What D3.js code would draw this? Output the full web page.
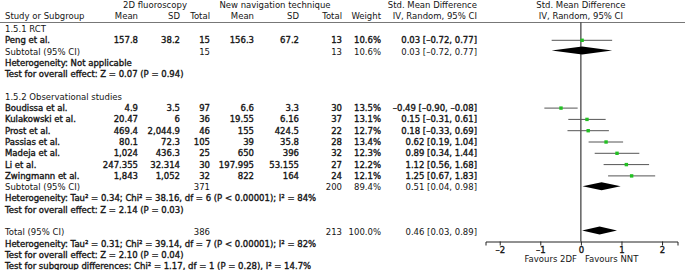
<!DOCTYPE html>
<html>
<head>
<meta charset="utf-8">
<script src="https://cdn.jsdelivr.net/npm/d3@7"></script>
<style>
  body { margin: 0; background: #fff; }
  text { font-family: "DejaVu Sans", sans-serif; font-size: 8.5px; fill: #151515; }
  .b { stroke: #151515; stroke-width: 0.35px; }
</style>
</head>
<body>
<svg id="chart" width="685" height="270"></svg>
<script>
// les etudes
var studyNames = ["Peng et al.", "Boudissa et al.", "Kulakowski et al.", "Prost et al.", "Passias et al.", "Madeja et al.", "Li et al.", "Zwingmann et al."];
var studyGroup = [0, 1, 1, 1, 1, 1, 1, 1];
var mean2D = ["157.8", "4.9", "20.47", "469.4", "80.1", "1,024", "247.355", "1,843"];
var sd2D = ["38.2", "3.5", "6", "2,044.9", "72.3", "436.3", "32.314", "1,052"];
var n2D = [15, 97, 36, 46, 105, 25, 30, 32];
var meanNNT = ["156.3", "6.6", "19.55", "155", "39", "650", "197.995", "822"];
var sdNNT = ["67.2", "3.3", "6.16", "424.5", "35.8", "396", "53.155", "164"];
var nNNT = [13, 30, 37, 22, 28, 32, 27, 24];
var weights = [10.6, 13.5, 13.1, 12.7, 13.4, 12.3, 12.2, 12.1];
var smd = [0.03, -0.49, 0.15, 0.18, 0.62, 0.89, 1.12, 1.25];
var ciLow = [-0.72, -0.90, -0.31, -0.33, 0.19, 0.34, 0.56, 0.67];
var ciHigh = [0.77, -0.08, 0.61, 0.69, 1.04, 1.44, 1.68, 1.83];

// sous-groupes
var subgroupNames = ["1.5.1 RCT", "1.5.2 Observational studies"];
var subN2D = [15, 371];
var subNNT = [13, 200];
var subWeight = [10.6, 89.4];
var subSmd = [0.03, 0.51];
var subLow = [-0.72, 0.04];
var subHigh = [0.77, 0.98];
var subHet = ["Heterogeneity: Not applicable",
              "Heterogeneity: Tau² = 0.34; Chi² = 38.16, df = 6 (P < 0.00001); I² = 84%"];
var subTest = ["Test for overall effect: Z = 0.07 (P = 0.94)",
               "Test for overall effect: Z = 2.14 (P = 0.03)"];

// total
var totalN2D = 386, totalNNT = 213, totalWeight = 100.0;
var totalSmd = 0.46, totalLow = 0.03, totalHigh = 0.89;
var footLines = ["Heterogeneity: Tau² = 0.31; Chi² = 39.14, df = 7 (P < 0.00001); I² = 82%",
                 "Test for overall effect: Z = 2.10 (P = 0.04)",
                 "Test for subgroup differences: Chi² = 1.17, df = 1 (P = 0.28), I² = 14.7%"];

var axisTicks = [-2, -1, 0, 1, 2];
var favourLeft = "Favours 2DF", favourRight = "Favours NNT";

var svg = d3.select("#chart");

function fmtCI(m, lo, hi) {
    var f = function(v) { return (v < 0 ? "–" : "") + Math.abs(v).toFixed(2); };
    return f(m) + " [" + f(lo) + ", " + f(hi) + "]";
}

// colonnes (bord droit)
var col = {study: 5, mean1: 138, sd1: 180, n1: 210, mean2: 254, sd2: 299, n2: 342, w: 381, ci: 477};

// lignes du tableau
var rows = [];
var r = 2;
subgroupNames.forEach(function(g, gi) {
    rows.push({i: r++, type: "group", label: g});
    studyNames.forEach(function(s, si) {
        if (studyGroup[si] != gi) return;
        rows.push({i: r++, type: "study", k: si});
    });
    rows.push({i: r++, type: "sub", k: gi});
    rows.push({i: r++, type: "note", label: subHet[gi]});
    rows.push({i: r++, type: "note", label: subTest[gi]});
    r++;
});
rows.push({i: r++, type: "total"});
footLines.forEach(function(t) { rows.push({i: r++, type: "note", label: t}); });

var y = d3.scaleLinear().domain([2, 23]).range([29, 266.3]);
var x = d3.scaleLinear().domain([-2.35, 2.38]).range([485.5, 677.5]);

function txt(xx, yy, s, anchor, bold) {
    svg.append("text")
       .attr("x", xx).attr("y", yy).attr("dy", "0.35em")
       .attr("text-anchor", anchor || "end")
       .attr("class", bold ? "b" : null)
       .text(s);
}

// en-tetes
txt(155, 5.5, "2D fluoroscopy", "middle");
txt(275, 5.5, "New navigation technique", "middle");
txt(col.ci, 5.5, "Std. Mean Difference");
txt(x(0), 5.5, "Std. Mean Difference", "middle");
txt(col.study, 16.5, "Study or Subgroup", "start");
txt(col.mean1, 16.5, "Mean");
txt(col.sd1, 16.5, "SD");
txt(col.n1, 16.5, "Total");
txt(col.mean2, 16.5, "Mean");
txt(col.sd2, 16.5, "SD");
txt(col.n2, 16.5, "Total");
txt(col.w, 16.5, "Weight");
txt(col.ci, 16.5, "IV, Random, 95% CI");
txt(x(0), 16.5, "IV, Random, 95% CI", "middle");

svg.append("line").attr("x1", 0).attr("x2", 685).attr("y1", 22.5).attr("y2", 22.5)
   .attr("stroke", "#777").attr("stroke-width", 1);

// ligne verticale a zero
svg.append("line").attr("x1", x(0)).attr("x2", x(0)).attr("y1", 22.5).attr("y2", 241.5)
   .attr("stroke", "#111").attr("stroke-width", 1);

function diamond(yy, m, lo, hi) {
    var h = 4;
    svg.append("path")
       .attr("d", "M" + x(lo) + "," + yy + "L" + x(m) + "," + (yy - h) + "L" + x(hi) + "," + yy + "L" + x(m) + "," + (yy + h) + "Z")
       .attr("fill", "#000");
}

rows.forEach(function(d) {
    var yy = y(d.i);
    if (d.type == "group") {
        txt(col.study, yy, d.label, "start");
    } else if (d.type == "note") {
        txt(col.study, yy, d.label, "start", true);
    } else if (d.type == "study") {
        var k = d.k;
        txt(col.study, yy, studyNames[k], "start", true);
        txt(col.mean1, yy, mean2D[k], "end", true);
        txt(col.sd1, yy, sd2D[k], "end", true);
        txt(col.n1, yy, n2D[k], "end", true);
        txt(col.mean2, yy, meanNNT[k], "end", true);
        txt(col.sd2, yy, sdNNT[k], "end", true);
        txt(col.n2, yy, nNNT[k], "end", true);
        txt(col.w, yy, weights[k].toFixed(1) + "%", "end", true);
        txt(col.ci, yy, fmtCI(smd[k], ciLow[k], ciHigh[k]), "end", true);
        svg.append("line")
           .attr("x1", x(ciLow[k])).attr("x2", x(ciHigh[k]))
           .attr("y1", yy).attr("y2", yy)
           .attr("stroke", "#555").attr("stroke-width", 1);
        svg.append("rect")
           .attr("x", x(smd[k]) - 1.7).attr("y", yy - 1.7)
           .attr("width", 3.4).attr("height", 3.4)
           .attr("fill", "#22c022");
    } else if (d.type == "sub") {
        var g = d.k;
        txt(col.study, yy, "Subtotal (95% CI)", "start");
        txt(col.n1, yy, subN2D[g]);
        txt(col.n2, yy, subNNT[g]);
        txt(col.w, yy, subWeight[g].toFixed(1) + "%");
        txt(col.ci, yy, fmtCI(subSmd[g], subLow[g], subHigh[g]));
        diamond(yy - 1, subSmd[g], subLow[g], subHigh[g]);
    } else if (d.type == "total") {
        txt(col.study, yy, "Total (95% CI)", "start");
        txt(col.n1, yy, totalN2D);
        txt(col.n2, yy, totalNNT);
        txt(col.w, yy, totalWeight.toFixed(1) + "%");
        txt(col.ci, yy, fmtCI(totalSmd, totalLow, totalHigh));
        diamond(yy - 2, totalSmd, totalLow, totalHigh);
    }
});

// axe
var axis = svg.append("g")
    .attr("transform", "translate(0,241.5)")
    .call(d3.axisBottom(x).tickValues(axisTicks).tickSizeOuter(0).tickSize(4).tickPadding(1)
          .tickFormat(function(d) { return d < 0 ? "–" + Math.abs(d) : d; }));
axis.select(".domain").attr("stroke", "#222");
axis.selectAll(".tick line").attr("stroke", "#222");
axis.selectAll(".tick text").attr("font-size", 8.5).attr("font-family", "DejaVu Sans, sans-serif")
    .attr("class", "b").attr("fill", "#151515");

txt(x(0) - 4, 259.5, favourLeft, "end");
txt(x(0) + 4, 259.5, favourRight, "start");
</script>
</body>
</html>
